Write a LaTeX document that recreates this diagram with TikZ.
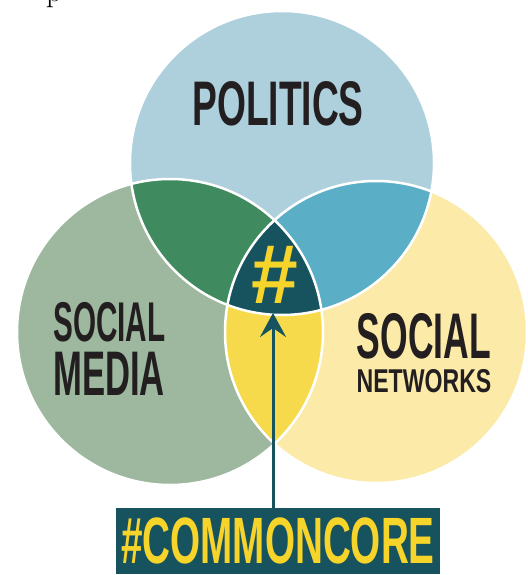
\documentclass[tikz,border=0pt]{standalone}
\usepackage{fontspec}
\usetikzlibrary{arrows.meta}
\newfontfamily\politicsfont[FakeStretch=0.59]{Liberation Sans}
\newfontfamily\mediafont[FakeStretch=0.53]{Liberation Sans}
\newfontfamily\socialfont[FakeStretch=0.55]{Liberation Sans}
\newfontfamily\networksfont[FakeStretch=0.70]{Liberation Sans}
\newfontfamily\hashfont{Liberation Sans}
\definecolor{politicsblue}{HTML}{AED0DD}
\definecolor{mediasage}{HTML}{9DB89E}
\definecolor{networkcream}{HTML}{FCEAA9}
\definecolor{pmgreen}{HTML}{3F8B5F}
\definecolor{pnteal}{HTML}{5AAFC6}
\definecolor{mnyellow}{HTML}{F7DA4B}
\definecolor{coreteal}{HTML}{17525F}
\definecolor{coreyellow}{HTML}{F6D42A}
\definecolor{inkblack}{HTML}{231F20}

\begin{document}
\begin{tikzpicture}[x=1pt,y=-1pt,line width=.5pt,
  lbl/.style={inner sep=0pt,text=inkblack},
  pointer/.style={draw=coreteal,line width=3pt,-{Stealth[length=24pt,width=26pt,inset=9pt]}}]
\path[use as bounding box] (0,0) rectangle (527,575);
\node[anchor=base,inner sep=0pt,font=\fontsize{32}{32}\selectfont] (cutoff) at (54,1.5) {p};
% the three discs
\fill[mediasage] (170,332) circle (153);
\fill[networkcream] (376,332) circle (151);
\fill[politicsblue] (282,163) circle (152);
% overlaps
\begin{scope}
\clip (282,163) circle (152);
\fill[pmgreen] (170,332) circle (153);
\fill[pnteal] (376,332) circle (151);
\end{scope}
\begin{scope}
\clip (170,332) circle (153);
\fill[mnyellow] (376,332) circle (151);
\clip (282,163) circle (152);
\fill[coreteal] (376,332) circle (151);
\end{scope}
\draw[white,line width=2.5pt] (170,332) circle (153);
\draw[white,line width=2.5pt] (376,332) circle (151);
\draw[white,line width=2.5pt] (282,163) circle (152);
% labels
\node[lbl,font=\politicsfont\bfseries\fontsize{63}{63}\selectfont] (politics) at (278,103.5) {POLITICS};
\node[lbl,anchor=west,font=\mediafont\bfseries\fontsize{56}{56}\selectfont] (mediaone) at (53,322.5) {SOCIAL};
\node[lbl,anchor=west,font=\socialfont\bfseries\fontsize{63}{63}\selectfont] (mediatwo) at (53,373.5) {MEDIA};
\node[lbl,font=\socialfont\bfseries\fontsize{64.5}{64.5}\selectfont] (netone) at (424,336) {SOCIAL};
\node[lbl,font=\networksfont\bfseries\fontsize{33}{33}\selectfont] (nettwo) at (424,381.5) {NETWORKS};
\node[inner sep=0pt,text=coreyellow,font=\hashfont\bfseries\fontsize{84}{84}\selectfont] (hash) at (275,275) {\#};
\coordinate (hashtip) at (273,313);
\node[fill=coreteal,text=coreyellow,inner sep=0pt,minimum width=324pt,minimum height=66pt,
  font=\politicsfont\bfseries\fontsize{65.5}{65.5}\selectfont] (tag) at (278,541) {\#COMMONCORE};
\draw[pointer] (hashtip |- tag.north) -- (hashtip);
\end{tikzpicture}
\end{document}
